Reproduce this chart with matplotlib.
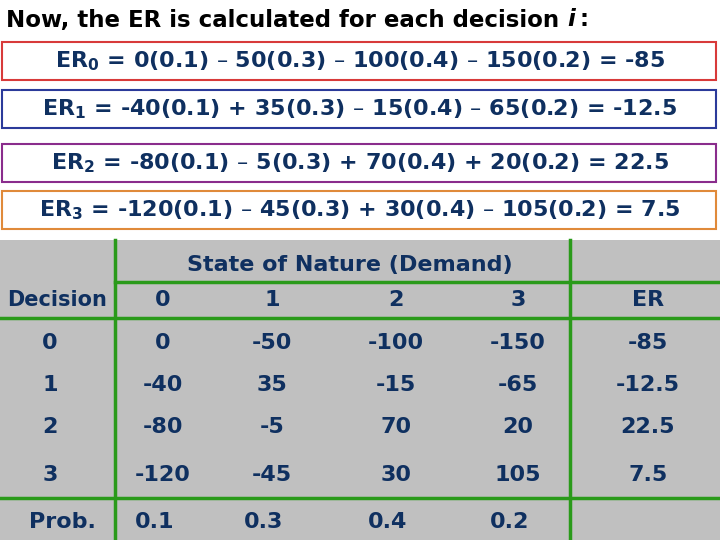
import matplotlib
matplotlib.use("Agg")
import matplotlib.pyplot as plt
from matplotlib.patches import Rectangle

plt.rcParams['font.family'] = ['DejaVu Sans']
plt.rcParams['mathtext.fontset'] = 'dejavusans'
plt.rcParams['mathtext.default'] = 'bf'

title = "Now, the ER is calculated for each decision "
equations = [
    r"ER$_0$ = 0(0.1) – 50(0.3) – 100(0.4) – 150(0.2) = -85",
    r"ER$_1$ = -40(0.1) + 35(0.3) – 15(0.4) – 65(0.2) = -12.5",
    r"ER$_2$ = -80(0.1) – 5(0.3) + 70(0.4) + 20(0.2) = 22.5",
    r"ER$_3$ = -120(0.1) – 45(0.3) + 30(0.4) – 105(0.2) = 7.5",
]
box_colors = ["#d83a3a", "#2b3a9a", "#8a2c8c", "#e08a3a"]
decisions = ["0", "1", "2", "3"]
states = ["0", "1", "2", "3"]
payoffs = [["0", "-50", "-100", "-150"],
           ["-40", "35", "-15", "-65"],
           ["-80", "-5", "70", "20"],
           ["-120", "-45", "30", "105"]]
er_values = ["-85", "-12.5", "22.5", "7.5"]
probs = ["0.1", "0.3", "0.4", "0.2"]

navy = "#0f3060"
green = "#2a9a1a"
fig = plt.figure(figsize=(7.2, 5.4), dpi=100)
ax = fig.add_axes([0, 0, 1, 1])
ax.set_xlim(0, 720); ax.set_ylim(540, 0); ax.axis('off')

t = ax.text(6, 20, title, fontsize=16.5, fontweight='bold', color='black', va='center', ha='left')
fig.canvas.draw()
bb = t.get_window_extent(fig.canvas.get_renderer())
xend = bb.x1 * 720 / fig.bbox.width
ax.text(xend, 20, "i", fontsize=16.5, fontweight='bold', style='italic', color='black', va='center')
ax.text(xend + 12, 20, ":", fontsize=16.5, fontweight='bold', color='black', va='center')

boxes_y = [(42, 80), (90, 128), (144, 182), (191, 229)]
for (y0, y1), eq, c in zip(boxes_y, equations, box_colors):
    ax.add_patch(Rectangle((2, y0), 714, y1 - y0, fill=False, ec=c, lw=1.5))
    ax.text(360, (y0 + y1) / 2, eq, fontsize=16, fontweight='bold', color=navy,
            ha='center', va='center')

# table
ax.add_patch(Rectangle((0, 240), 720, 300, fc="#c0c0c0", ec='none'))
lw = 2.5
ax.plot([115, 115], [240, 540], color=green, lw=lw)
ax.plot([570, 570], [240, 540], color=green, lw=lw)
ax.plot([115, 720], [282, 282], color=green, lw=lw)
ax.plot([0, 720], [318, 318], color=green, lw=lw)
ax.plot([0, 720], [498, 498], color=green, lw=lw)

fs = 16
ax.text(350, 265, "State of Nature (Demand)", fontsize=fs, fontweight='bold', color=navy, ha='center', va='center')
ax.text(57, 300, "Decision", fontsize=15, fontweight='bold', color=navy, ha='center', va='center')
col_x = [163, 272, 396, 518]
for x, s in zip(col_x, states):
    ax.text(x, 300, s, fontsize=fs, fontweight='bold', color=navy, ha='center', va='center')
ax.text(648, 300, "ER", fontsize=fs, fontweight='bold', color=navy, ha='center', va='center')
row_y = [343, 385, 427, 475]
for y, d, row, er in zip(row_y, decisions, payoffs, er_values):
    ax.text(50, y, d, fontsize=fs, fontweight='bold', color=navy, ha='center', va='center')
    for x, v in zip(col_x, row):
        ax.text(x, y, v, fontsize=fs, fontweight='bold', color=navy, ha='center', va='center')
    ax.text(648, y, er, fontsize=fs, fontweight='bold', color=navy, ha='center', va='center')
ax.text(62, 522, "Prob.", fontsize=fs, fontweight='bold', color=navy, ha='center', va='center')
for x, p in zip(col_x, probs):
    ax.text(x - 8, 522, p, fontsize=fs, fontweight='bold', color=navy, ha='center', va='center')

fig.savefig("out.png", dpi=100)
